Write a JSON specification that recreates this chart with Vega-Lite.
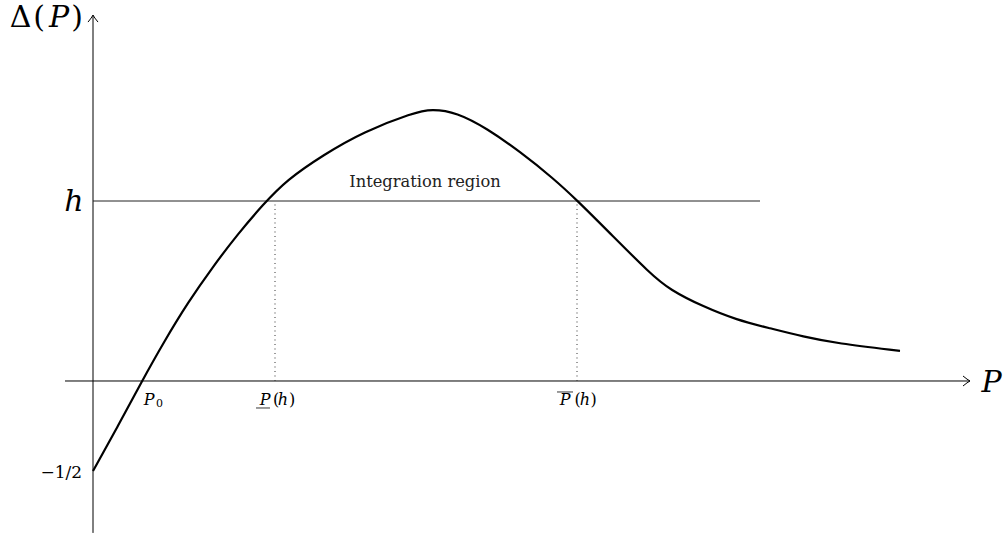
{
  "$schema": "https://vega.github.io/schema/vega-lite/v6.json",
  "width": 1008,
  "height": 535,
  "padding": 0,
  "autosize": {"type": "fit", "contains": "padding"},
  "background": "white",
  "config": {"view": {"stroke": null}},
  "datasets": {
    "axes": [
      {"x1": -0.28, "x2": 8.77, "y1": 0, "y2": 0},
      {"x1": 0, "x2": 0, "y1": -0.844, "y2": 2.033}
    ],
    "hline": [{"x1": 0, "x2": 6.67, "y1": 1.0, "y2": 1.0}],
    "dotted": [
      {"x1": 1.82, "x2": 1.82, "y1": 0, "y2": 1.0},
      {"x1": 4.84, "x2": 4.84, "y1": 0, "y2": 1.0}
    ],
    "bars": [
      {"x1": 1.63, "x2": 1.77, "y1": -0.15, "y2": -0.15},
      {"x1": 4.64, "x2": 4.80, "y1": -0.061, "y2": -0.061}
    ],
    "curve": [
      {"P": 0, "D": -0.5},
      {"P": 0.25, "D": -0.25},
      {"P": 0.49, "D": 0},
      {"P": 0.71, "D": 0.218},
      {"P": 0.95, "D": 0.437},
      {"P": 1.20, "D": 0.636},
      {"P": 1.45, "D": 0.818},
      {"P": 1.70, "D": 0.98},
      {"P": 1.937, "D": 1.117},
      {"P": 2.303, "D": 1.256},
      {"P": 2.703, "D": 1.385},
      {"P": 3.203, "D": 1.49},
      {"P": 3.387, "D": 1.512},
      {"P": 3.637, "D": 1.492},
      {"P": 3.937, "D": 1.404},
      {"P": 4.27, "D": 1.274},
      {"P": 4.603, "D": 1.126},
      {"P": 4.837, "D": 1.006},
      {"P": 5.17, "D": 0.821},
      {"P": 5.57, "D": 0.598},
      {"P": 5.77, "D": 0.506},
      {"P": 6.103, "D": 0.413},
      {"P": 6.437, "D": 0.339},
      {"P": 6.77, "D": 0.293},
      {"P": 7.103, "D": 0.246},
      {"P": 7.437, "D": 0.209},
      {"P": 8.07, "D": 0.167}
    ],
    "arrowRight": [{"x": 8.77, "y": 0}],
    "arrowUp": [{"x": 0, "y": 2.033}],
    "bigUpright": [
      {"t": "Δ", "x": -0.725, "y": 1.967},
      {"t": "(", "x": -0.54, "y": 1.967},
      {"t": ")", "x": -0.16, "y": 1.967}
    ],
    "bigItalic": [
      {"t": "P", "x": -0.34, "y": 1.967},
      {"t": "h", "x": -0.19, "y": 0.944},
      {"t": "P", "x": 8.985, "y": -0.061}
    ],
    "medItalic": [
      {"t": "P", "x": 0.56, "y": -0.133},
      {"t": "P", "x": 1.72, "y": -0.133},
      {"t": "h", "x": 1.9, "y": -0.133},
      {"t": "P", "x": 4.72, "y": -0.133},
      {"t": "h", "x": 4.92, "y": -0.133}
    ],
    "medUpright": [
      {"t": "(", "x": 1.83, "y": -0.133},
      {"t": ")", "x": 1.99, "y": -0.133},
      {"t": "(", "x": 4.845, "y": -0.133},
      {"t": ")", "x": 5.005, "y": -0.133}
    ],
    "sub": [{"t": "0", "x": 0.665, "y": -0.144}],
    "tick": [{"t": "−1/2", "x": -0.11, "y": -0.539}],
    "region": [{"t": "Integration region", "x": 3.32, "y": 1.078}]
  },
  "encoding": {
    "x": {"field": "x", "type": "quantitative", "axis": null, "scale": {"domain": [-0.93, 9.15], "nice": false, "zero": false}},
    "y": {"field": "y", "type": "quantitative", "axis": null, "scale": {"domain": [-0.8556, 2.1167], "nice": false, "zero": false}}
  },
  "layer": [
    {
      "data": {"name": "axes"},
      "mark": {"type": "rule", "color": "black", "strokeWidth": 1},
      "encoding": {
        "x": {"field": "x1", "type": "quantitative"},
        "x2": {"field": "x2"},
        "y": {"field": "y1", "type": "quantitative"},
        "y2": {"field": "y2"}
      }
    },
    {
      "data": {"name": "hline"},
      "mark": {"type": "rule", "color": "#222", "strokeWidth": 1},
      "encoding": {
        "x": {"field": "x1", "type": "quantitative"},
        "x2": {"field": "x2"},
        "y": {"field": "y1", "type": "quantitative"},
        "y2": {"field": "y2"}
      }
    },
    {
      "data": {"name": "dotted"},
      "mark": {"type": "rule", "color": "#333", "strokeWidth": 1, "strokeDash": [1, 3.5]},
      "encoding": {
        "x": {"field": "x1", "type": "quantitative"},
        "x2": {"field": "x2"},
        "y": {"field": "y1", "type": "quantitative"},
        "y2": {"field": "y2"}
      }
    },
    {
      "data": {"name": "bars"},
      "mark": {"type": "rule", "color": "#222", "strokeWidth": 0.9},
      "encoding": {
        "x": {"field": "x1", "type": "quantitative"},
        "x2": {"field": "x2"},
        "y": {"field": "y1", "type": "quantitative"},
        "y2": {"field": "y2"}
      }
    },
    {
      "data": {"name": "curve"},
      "mark": {"type": "line", "color": "black", "strokeWidth": 2.2, "interpolate": "basis"},
      "encoding": {
        "x": {"field": "P", "type": "quantitative"},
        "y": {"field": "D", "type": "quantitative"}
      }
    },
    {
      "data": {"name": "arrowRight"},
      "mark": {"type": "point", "shape": "M -1.4 -1 Q -0.5 -0.25 0 0 Q -0.5 0.25 -1.4 1", "size": 100, "filled": false, "stroke": "black", "strokeWidth": 1, "opacity": 1}
    },
    {
      "data": {"name": "arrowUp"},
      "mark": {"type": "point", "shape": "M -1 1.4 Q -0.25 0.5 0 0 Q 0.25 0.5 1 1.4", "size": 100, "filled": false, "stroke": "black", "strokeWidth": 1, "opacity": 1}
    },
    {
      "data": {"name": "bigUpright"},
      "mark": {"type": "text", "font": "DejaVu Serif", "fontSize": 30, "align": "center", "baseline": "alphabetic", "color": "black"},
      "encoding": {"text": {"field": "t"}}
    },
    {
      "data": {"name": "bigItalic"},
      "mark": {"type": "text", "font": "DejaVu Serif", "fontStyle": "italic", "fontSize": 30, "align": "center", "baseline": "alphabetic", "color": "black"},
      "encoding": {"text": {"field": "t"}}
    },
    {
      "data": {"name": "medItalic"},
      "mark": {"type": "text", "font": "DejaVu Serif", "fontStyle": "italic", "fontSize": 16, "align": "center", "baseline": "alphabetic", "color": "black"},
      "encoding": {"text": {"field": "t"}}
    },
    {
      "data": {"name": "medUpright"},
      "mark": {"type": "text", "font": "DejaVu Serif", "fontSize": 16, "align": "center", "baseline": "alphabetic", "color": "black"},
      "encoding": {"text": {"field": "t"}}
    },
    {
      "data": {"name": "sub"},
      "mark": {"type": "text", "font": "DejaVu Serif", "fontSize": 11, "align": "center", "baseline": "alphabetic", "color": "black"},
      "encoding": {"text": {"field": "t"}}
    },
    {
      "data": {"name": "tick"},
      "mark": {"type": "text", "font": "DejaVu Serif", "fontSize": 17, "align": "right", "baseline": "alphabetic", "color": "black"},
      "encoding": {"text": {"field": "t"}}
    },
    {
      "data": {"name": "region"},
      "mark": {"type": "text", "font": "DejaVu Serif", "fontSize": 16.3, "align": "center", "baseline": "alphabetic", "color": "#222"},
      "encoding": {"text": {"field": "t"}}
    }
  ]
}
